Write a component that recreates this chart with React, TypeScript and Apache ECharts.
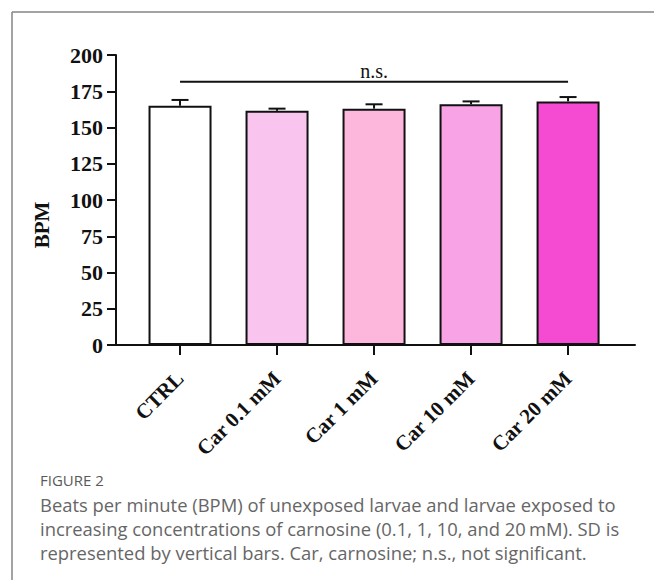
import React, { useEffect, useRef } from "react";
import * as echarts from "echarts";

const categories = ["CTRL", "Car 0.1 mM", "Car 1 mM", "Car 10 mM", "Car 20 mM"];
const bpm = [165, 161.5, 163, 166, 168];
const sdValues = [4, 1.5, 3, 2, 3];
const barColors = ["#ffffff", "#f9c5ef", "#fdb6dc", "#f7a3e6", "#f54bd3"];
const categoryIndex = [0, 1, 2, 3, 4];
const yMin = 0;
const yMax = 200;
const yStep = 25;
const nsLevel = 181.5;
const nsLabel = "n.s.";
const yTitle = "BPM";
const figureLabel = "FIGURE 2";
const captionLines = [
  "Beats per minute (BPM) of unexposed larvae and larvae exposed to",
  "increasing concentrations of carnosine (0.1, 1, 10, and 20\u2009mM). SD is",
  "represented by vertical bars. Car, carnosine; n.s., not significant.",
];

const SERIF = "'Liberation Serif', 'Times New Roman', serif";
const SANS = "'Open Sans', 'Noto Sans', sans-serif";

export default function App() {
  const ref = useRef<HTMLDivElement>(null);

  useEffect(() => {
    document.body.style.margin = "0";
    if (!ref.current) return;
    const chart = echarts.init(ref.current, undefined, { renderer: "svg" });

    const option: any = {
      animation: false,
      backgroundColor: "#ffffff",
      grid: { left: 116, right: 19, top: 55, bottom: 236, containLabel: false },
      xAxis: {
        type: "value",
        min: -0.66,
        max: 4.69,
        splitLine: { show: false },
        axisLine: { show: true, onZero: false, lineStyle: { color: "#111", width: 2 } },
        axisTick: {
          show: true,
          customValues: categoryIndex,
          length: 10,
          lineStyle: { color: "#111", width: 2 },
        },
        axisLabel: {
          show: true,
          customValues: categoryIndex,
          rotate: 45,
          margin: 30,
          color: "#111",
          fontFamily: SERIF,
          fontWeight: "bold",
          fontSize: 21,
          formatter: (v: number) => categories[Math.round(v)] ?? "",
        },
      },
      yAxis: {
        type: "value",
        min: yMin,
        max: yMax,
        interval: yStep,
        splitLine: { show: false },
        axisLine: { show: true, onZero: false, lineStyle: { color: "#111", width: 2 } },
        axisTick: { show: true, length: 9, lineStyle: { color: "#111", width: 2 } },
        axisLabel: {
          margin: 13,
          color: "#111",
          fontFamily: SERIF,
          fontWeight: "bold",
          fontSize: 22,
        },
      },
      series: [
        {
          type: "bar",
          barWidth: 63,
          data: bpm.map((v, i) => ({
            value: [categoryIndex[i], v],
            itemStyle: { color: barColors[i], borderColor: "#111", borderWidth: 2 },
          })),
          z: 2,
        },
        {
          type: "custom",
          z: 3,
          data: bpm.map((v, i) => [categoryIndex[i], v, sdValues[i]]),
          renderItem: (_params: any, api: any) => {
            const x = api.value(0);
            const v = api.value(1);
            const s = api.value(2);
            const p0 = api.coord([x, v]);
            const p1 = api.coord([x, v + s]);
            const style = { stroke: "#111", lineWidth: 2 };
            return {
              type: "group",
              children: [
                { type: "line", shape: { x1: p0[0], y1: p0[1], x2: p1[0], y2: p1[1] }, style },
                { type: "line", shape: { x1: p1[0] - 8.5, y1: p1[1], x2: p1[0] + 8.5, y2: p1[1] }, style },
              ],
            };
          },
        },
        {
          type: "custom",
          z: 3,
          data: [[categoryIndex[0], categoryIndex[4], nsLevel]],
          renderItem: (_params: any, api: any) => {
            const a = api.coord([api.value(0), api.value(2)]);
            const b = api.coord([api.value(1), api.value(2)]);
            return {
              type: "group",
              children: [
                {
                  type: "line",
                  shape: { x1: a[0], y1: a[1], x2: b[0], y2: b[1] },
                  style: { stroke: "#111", lineWidth: 2 },
                },
                {
                  type: "text",
                  x: (a[0] + b[0]) / 2,
                  y: a[1] - 10.5,
                  style: {
                    text: nsLabel,
                    fill: "#111",
                    font: `20px ${SERIF}`,
                    textAlign: "center",
                    textVerticalAlign: "middle",
                  },
                },
              ],
            };
          },
        },
      ],
      graphic: [
        { type: "line", shape: { x1: 12, y1: 12, x2: 654, y2: 12 }, style: { stroke: "#858585", lineWidth: 1.5 } },
        { type: "line", shape: { x1: 12, y1: 12, x2: 12, y2: 580 }, style: { stroke: "#858585", lineWidth: 1.5 } },
        {
          type: "text",
          x: 42,
          y: 225,
          rotation: Math.PI / 2,
          style: {
            text: yTitle,
            fill: "#111",
            font: `bold 21px ${SERIF}`,
            textAlign: "center",
            textVerticalAlign: "middle",
          },
        },
        {
          type: "text",
          x: 40,
          y: 480,
          style: {
            text: figureLabel,
            fill: "#5a5a5a",
            font: `15px ${SANS}`,
            textAlign: "left",
            textVerticalAlign: "middle",
          },
        },
        ...captionLines.map((t, i) => ({
          type: "text",
          x: 40,
          y: 504 + i * 24,
          style: {
            text: t,
            fill: "#666666",
            font: `18.4px ${SANS}`,
            textAlign: "left",
            textVerticalAlign: "middle",
          },
        })),
      ],
    };

    chart.setOption(option);
    return () => chart.dispose();
  }, []);

  return <div ref={ref} style={{ width: 654, height: 581 }} />;
}
